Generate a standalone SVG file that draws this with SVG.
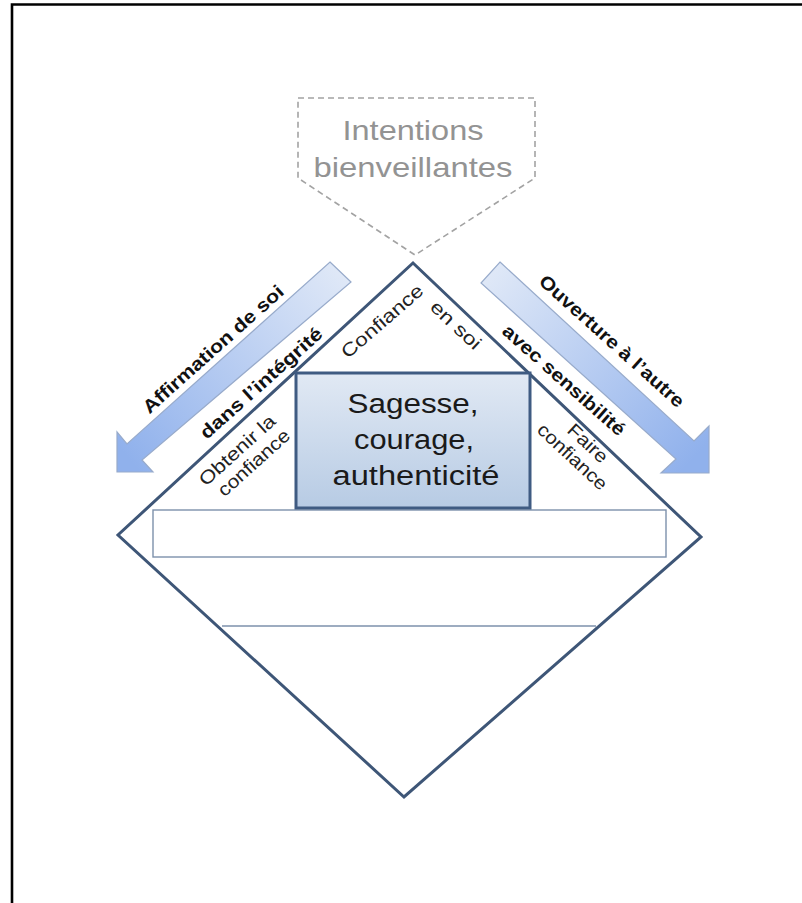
<svg xmlns="http://www.w3.org/2000/svg" width="802" height="903" viewBox="0 0 802 903">
<defs>
<style>
.frame{fill:none;stroke:#000;stroke-width:2.6}
.dash{fill:none;stroke:#a3a3a3;stroke-width:1.6;stroke-dasharray:6 4}
.intent{font-family:"Liberation Sans",Arial,sans-serif;font-size:28px;fill:#939393;text-anchor:middle}
.dia{fill:#fff;stroke:#3e5677;stroke-width:3}
.thin{fill:#fff;stroke:#7d91ab;stroke-width:1.4}
.box{fill:url(#boxg);stroke:#3f5b82;stroke-width:3}
.boxt{font-family:"Liberation Sans",Arial,sans-serif;font-size:27px;fill:#1a1a1a;text-anchor:middle}
.arr{stroke:#98abcb;stroke-width:1.2}
.bl{font-family:"Liberation Sans",Arial,sans-serif;font-size:18.5px;font-weight:bold;fill:#111;text-anchor:middle}
.rl{font-family:"Liberation Sans",Arial,sans-serif;font-size:18.5px;fill:#222;text-anchor:middle}
</style>
<linearGradient id="boxg" x1="0" y1="0" x2="0" y2="1">
<stop offset="0" stop-color="#e1e9f4"/>
<stop offset="1" stop-color="#b7cbe4"/>
</linearGradient>
<linearGradient id="lg" gradientUnits="userSpaceOnUse" x1="340" y1="272" x2="128" y2="458">
<stop offset="0" stop-color="#dfe8f7"/>
<stop offset="1" stop-color="#90b1ec"/>
</linearGradient>
<linearGradient id="rg" gradientUnits="userSpaceOnUse" x1="491" y1="273" x2="694" y2="458">
<stop offset="0" stop-color="#dfe8f7"/>
<stop offset="1" stop-color="#90b1ec"/>
</linearGradient>
</defs>
<rect width="802" height="903" fill="#fff"/>
<g id="frame"><polyline class="frame" points="12,903 12,4.5 802,4.5"/></g>

<g id="intentions">
<polygon class="dash" points="298,98 535,98 535,178 415,255 298,178"/>
<text class="intent" x="413" y="140" textLength="141" lengthAdjust="spacingAndGlyphs">Intentions</text>
<text class="intent" x="413" y="177" textLength="199" lengthAdjust="spacingAndGlyphs">bienveillantes</text>
</g>

<g id="diamond">
<polygon class="dia" points="413,263 701,537 404,797 118,535"/>
<rect class="thin" x="153" y="510" width="513" height="47"/>
<line class="thin" x1="222" y1="626" x2="596" y2="626"/>
</g>

<g id="center-box">
<rect class="box" x="296" y="373" width="234" height="135"/>
<text class="boxt" x="413" y="413" textLength="131" lengthAdjust="spacingAndGlyphs">Sagesse,</text>
<text class="boxt" x="414" y="449" textLength="120" lengthAdjust="spacingAndGlyphs">courage,</text>
<text class="boxt" x="416" y="485" textLength="167" lengthAdjust="spacingAndGlyphs">authenticité</text>
</g>

<g id="labels">
<g transform="translate(382,321) rotate(-41)"><text class="rl" x="0" y="6.5" textLength="102" lengthAdjust="spacingAndGlyphs">Confiance</text></g>
<g transform="translate(456,325) rotate(43)"><text class="rl" x="0" y="6.5" textLength="62" lengthAdjust="spacingAndGlyphs">en soi</text></g>
<g transform="translate(237,450) rotate(-42)"><text class="rl" x="0" y="6.5" textLength="96" lengthAdjust="spacingAndGlyphs">Obtenir la</text><text class="rl" x="4" y="27" textLength="90" lengthAdjust="spacingAndGlyphs">confiance</text></g>
<g transform="translate(588,443) rotate(43)"><text class="rl" x="0" y="6.5" textLength="48" lengthAdjust="spacingAndGlyphs">Faire</text><text class="rl" x="-2" y="27" textLength="88" lengthAdjust="spacingAndGlyphs">confiance</text></g>
</g>

<g id="connectors">
<g id="arrow-left">
<polygon class="arr" fill="url(#lg)" points="330,262 351,282 142,460 153,472 117,472 117,432 127,444"/>
<g transform="translate(213,349) rotate(-41.7)"><text class="bl" x="0" y="6.5" textLength="182" lengthAdjust="spacingAndGlyphs">Affirmation de soi</text></g>
<g transform="translate(261,383) rotate(-41.7)"><text class="bl" x="0" y="6.5" textLength="157" lengthAdjust="spacingAndGlyphs">dans l’intégrité</text></g>
</g>
<g id="arrow-right">
<polygon class="arr" fill="url(#rg)" points="500,262 694,441 709,426 709,473 661,473 676,459 481,283"/>
<g transform="translate(612,341) rotate(41.9)"><text class="bl" x="0" y="6.5" textLength="188" lengthAdjust="spacingAndGlyphs">Ouverture à l’autre</text></g>
<g transform="translate(564,380) rotate(41.5)"><text class="bl" x="0" y="6.5" textLength="157" lengthAdjust="spacingAndGlyphs">avec sensibilité</text></g>
</g>
</g>
</svg>
